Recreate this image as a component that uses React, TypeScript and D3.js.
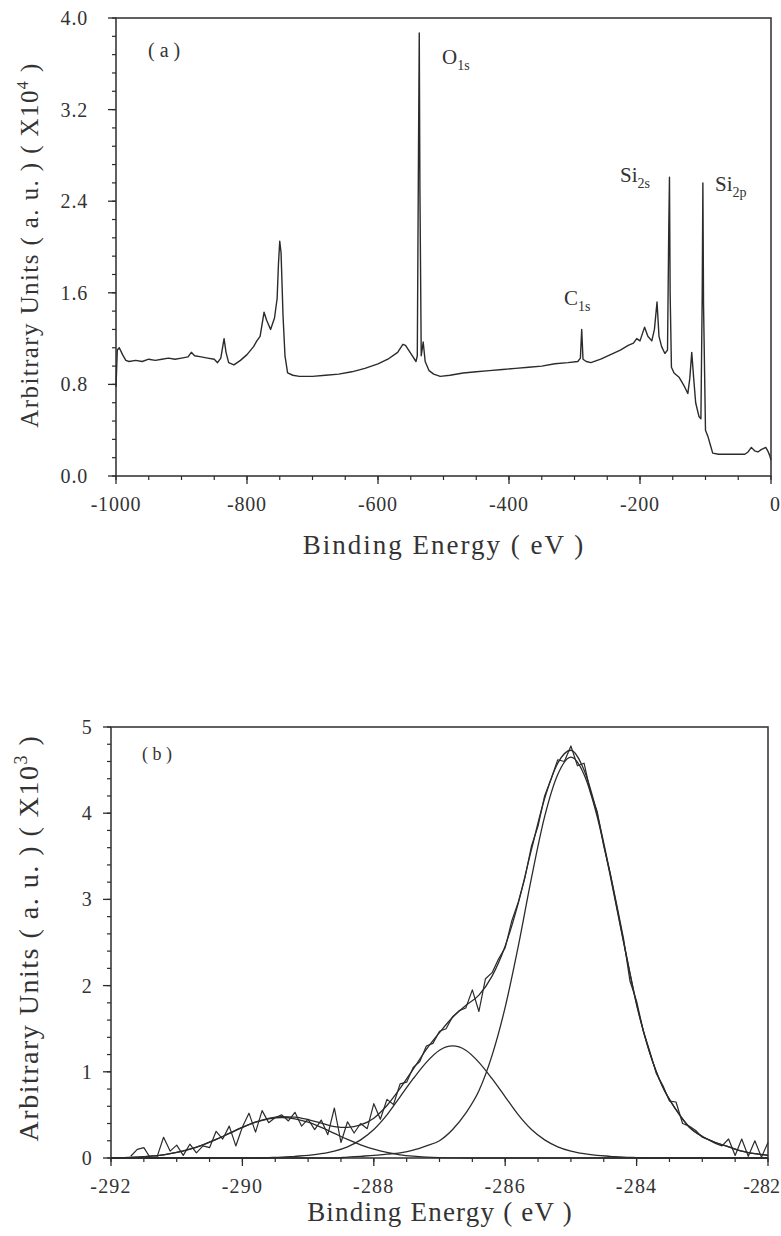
import React from "react";
import * as d3 from "d3";

// (a) survey spectrum, intensity in units of 10^4
const surveyEnergy = [
  -1000, -998, -995, -990, -985, -980, -970, -960, -950, -940, -930, -920, -910, -900, -890, -885, -880,
  -870, -860, -850, -845, -840, -835, -832, -828, -820, -810, -800, -790, -785, -780, -774, -770, -764,
  -758, -754, -752, -750, -748, -745, -742, -738, -730, -720, -700, -680, -660, -640, -620, -600, -585,
  -570, -562, -558, -550, -542, -540, -538, -537, -536, -534, -531, -528, -522, -515, -505, -490, -470,
  -450, -430, -410, -390, -370, -350, -330, -310, -295, -291, -289, -287, -282, -275, -260, -245, -230,
  -218, -210, -205, -200, -193, -188, -182, -178, -174, -171, -167, -162, -158, -156, -155, -154, -152,
  -148, -140, -132, -127, -124, -121, -118, -115, -110, -107, -105, -104, -103, -100, -96, -92, -89, -80,
  -60, -40, -35, -30, -25, -20, -15, -8, -5, -2, 0,
];
const surveyCounts = [
  0.78, 1.1, 1.12, 1.06, 1.01, 1.0, 1.01, 1.0, 1.02, 1.01, 1.02, 1.03, 1.02, 1.03, 1.04, 1.08, 1.05,
  1.04, 1.03, 1.02, 0.99, 1.03, 1.2, 1.08, 0.99, 0.97, 1.01, 1.06, 1.13, 1.18, 1.22, 1.43, 1.36, 1.28,
  1.38, 1.55, 1.85, 2.05, 1.95, 1.4, 1.05, 0.9, 0.88, 0.87, 0.87, 0.88, 0.89, 0.91, 0.94, 0.98, 1.02,
  1.08, 1.15, 1.14, 1.07, 1.0, 1.05, 3.0, 3.87, 2.5, 1.05, 1.17, 1.0, 0.92, 0.89, 0.87, 0.88, 0.9,
  0.91, 0.92, 0.93, 0.94, 0.95, 0.96, 0.98, 0.99, 1.0, 1.03, 1.28, 1.02, 1.0, 0.99, 1.02, 1.06, 1.1,
  1.14, 1.16, 1.2, 1.18, 1.3, 1.22, 1.18, 1.28, 1.52, 1.22, 1.13, 1.07, 1.1, 2.2, 2.61, 1.6, 0.95,
  0.9, 0.86, 0.78, 0.72, 0.85, 1.08, 0.85, 0.64, 0.52, 0.5, 1.6, 2.56, 1.5, 0.4, 0.34, 0.26, 0.2, 0.19,
  0.19, 0.19, 0.21, 0.25, 0.22, 0.21, 0.23, 0.25, 0.22, 0.18, 0.14,
];
const surveyXTicks = [-1000, -800, -600, -400, -200, 0];
const surveyYTicks = [0, 0.8, 1.6, 2.4, 3.2, 4.0];

// (b) C1s region, intensity in units of 10^3
const c1sEnergy = [
  -291.7, -291.6, -291.5, -291.4, -291.3, -291.2, -291.1, -291.0, -290.9, -290.8, -290.7, -290.6, -290.5,
  -290.4, -290.3, -290.2, -290.1, -290.0, -289.9, -289.8, -289.7, -289.6, -289.5, -289.4, -289.3, -289.2,
  -289.1, -289.0, -288.9, -288.8, -288.7, -288.6, -288.5, -288.4, -288.3, -288.2, -288.1, -288.0, -287.9,
  -287.8, -287.7, -287.6, -287.5, -287.4, -287.3, -287.2, -287.1, -287.0, -286.9, -286.8, -286.7, -286.6,
  -286.5, -286.4, -286.3, -286.2, -286.1, -286.0, -285.9, -285.8, -285.7, -285.6, -285.5, -285.4, -285.3,
  -285.2, -285.1, -285.0, -284.9, -284.8, -284.7, -284.6, -284.5, -284.4, -284.3, -284.2, -284.1, -284.0,
  -283.9, -283.8, -283.7, -283.6, -283.5, -283.4, -283.3, -283.2, -283.1, -283.0, -282.9, -282.8, -282.7,
  -282.6, -282.5, -282.4, -282.3, -282.2, -282.1, -282.0,
];
const c1sCounts = [
  0.02, 0.1, 0.12, 0.0, 0.01, 0.24, 0.08, 0.15, 0.03, 0.16, 0.06, 0.14, 0.12, 0.31, 0.22, 0.37, 0.14,
  0.36, 0.52, 0.3, 0.55, 0.41, 0.47, 0.5, 0.43, 0.53, 0.37, 0.45, 0.33, 0.44, 0.27, 0.58, 0.18, 0.42,
  0.29, 0.4, 0.34, 0.63, 0.45, 0.68, 0.62, 0.86, 0.88, 1.05, 1.12, 1.3, 1.33, 1.47, 1.5, 1.64, 1.71, 1.74,
  1.95, 1.7, 2.08, 2.15, 2.31, 2.44, 2.75, 2.97, 3.25, 3.62, 3.85, 4.2, 4.4, 4.62, 4.6, 4.78, 4.55, 4.58,
  4.24, 4.02, 3.62, 3.3, 2.93, 2.55, 2.05, 1.82, 1.48, 1.24, 0.98, 0.84, 0.66, 0.65, 0.4, 0.37, 0.32,
  0.24, 0.21, 0.17, 0.14, 0.22, 0.03, 0.22, 0.02, 0.2, 0.01, 0.18,
];

// fitted components and their sum
const fitEnergy = [
  -292.0, -291.8, -291.6, -291.4, -291.2, -291.0, -290.8, -290.6, -290.4, -290.2, -290.0, -289.8, -289.6,
  -289.4, -289.2, -289.0, -288.8, -288.6, -288.4, -288.2, -288.0, -287.8, -287.6, -287.4, -287.2, -287.0,
  -286.8, -286.6, -286.4, -286.2, -286.0, -285.8, -285.6, -285.4, -285.2, -285.0, -284.8, -284.6, -284.4,
  -284.2, -284.0, -283.8, -283.6, -283.4, -283.2, -283.0, -282.8, -282.6, -282.4, -282.2, -282.0,
];
const fitPeak1 = [
  0.002, 0.005, 0.011, 0.021, 0.037, 0.064, 0.102, 0.153, 0.215, 0.285, 0.355, 0.415, 0.455, 0.47, 0.455,
  0.415, 0.355, 0.285, 0.215, 0.153, 0.102, 0.064, 0.037, 0.021, 0.011, 0.005, 0.002, 0, 0, 0, 0, 0, 0,
  0, 0, 0, 0, 0, 0, 0, 0, 0, 0, 0, 0, 0, 0, 0, 0, 0, 0,
];
const fitPeak2 = [
  0, 0, 0, 0, 0, 0, 0, 0, 0, 0, 0, 0, 0.005, 0.01, 0.02, 0.03, 0.05, 0.08, 0.13, 0.21, 0.33, 0.5, 0.71,
  0.92, 1.11, 1.25, 1.3, 1.25, 1.11, 0.92, 0.71, 0.5, 0.33, 0.21, 0.13, 0.08, 0.05, 0.03, 0.02, 0.01,
  0.005, 0, 0, 0, 0, 0, 0, 0, 0, 0, 0,
];
const fitPeak3 = [
  0, 0, 0, 0, 0, 0, 0, 0, 0, 0, 0, 0, 0, 0, 0, 0, 0, 0, 0.01, 0.02, 0.03, 0.045, 0.06, 0.09, 0.14, 0.2,
  0.33, 0.52, 0.78, 1.19, 1.75, 2.46, 3.25, 3.96, 4.45, 4.65, 4.45, 3.96, 3.27, 2.51, 1.78, 1.22, 0.82,
  0.56, 0.36, 0.25, 0.18, 0.13, 0.08, 0.05, 0.03,
];
const fitEnvelope = [
  0.002, 0.005, 0.011, 0.021, 0.037, 0.064, 0.102, 0.153, 0.215, 0.285, 0.355, 0.415, 0.46, 0.48, 0.475,
  0.445, 0.405, 0.365, 0.355, 0.383, 0.462, 0.609, 0.807, 1.031, 1.261, 1.455, 1.632, 1.77, 1.89, 2.11,
  2.46, 2.96, 3.58, 4.17, 4.58, 4.73, 4.5, 3.99, 3.29, 2.52, 1.785, 1.22, 0.82, 0.56, 0.36, 0.25, 0.18,
  0.13, 0.08, 0.05, 0.03,
];
const c1sXTicks = [-292, -290, -288, -286, -284, -282];
const c1sYTicks = [0, 1, 2, 3, 4, 5];

const serif = "'Liberation Serif', 'Times New Roman', 'DejaVu Serif', serif";
const ink = "#2b2b2b";

type AxisProps = {
  x: d3.ScaleLinear<number, number>;
  y: d3.ScaleLinear<number, number>;
  xTicks: number[];
  yTicks: number[];
  xMinorStep: number;
  yMinorStep: number;
  fmtX: (v: number) => string;
  fmtY: (v: number) => string;
  yLabelGap: number;
  tickFont: number;
  tickSpacing: number;
};

function Frame({ x, y, xTicks, yTicks, xMinorStep, yMinorStep, fmtX, fmtY, yLabelGap, tickFont, tickSpacing }: AxisProps) {
  const [x0, x1] = x.range();
  const [y0, y1] = y.range();
  const [dx0, dx1] = x.domain();
  const [dy0, dy1] = y.domain();
  const xMinor = d3.range(dx0, dx1 + 1e-9, xMinorStep);
  const yMinor = d3.range(dy0, dy1 + 1e-9, yMinorStep);
  return (
    <g>
      <rect x={x0} y={y1} width={x1 - x0} height={y0 - y1} fill="none" stroke="#3a3a3a" strokeWidth={1.6} />
      {xMinor.map((v, i) => (
        <line key={"xm" + i} x1={x(v)} x2={x(v)} y1={y0} y2={y0 + 4} stroke={ink} strokeWidth={1.2} />
      ))}
      {yMinor.map((v, i) => (
        <line key={"ym" + i} x1={x0 - 4} x2={x0} y1={y(v)} y2={y(v)} stroke={ink} strokeWidth={1.2} />
      ))}
      {xTicks.map((v, i) => {
        // the last label sits at the page edge: keep it inside the picture
        const last = i === xTicks.length - 1 && x(v) > 760;
        return (
          <g key={"xt" + v}>
            <line x1={x(v)} x2={x(v)} y1={y0} y2={y0 + 8} stroke={ink} strokeWidth={1.3} />
            <text x={last ? 780 : x(v)} y={y0 + 35} textAnchor={last ? "end" : "middle"} fontFamily={serif}
              fontSize={tickFont} letterSpacing={last ? 0 : tickSpacing} fill="#333">{fmtX(v)}</text>
          </g>
        );
      })}
      {yTicks.map((v) => (
        <g key={"yt" + v}>
          <line x1={x0 - 8} x2={x0} y1={y(v)} y2={y(v)} stroke={ink} strokeWidth={1.3} />
          <text x={x0 - yLabelGap} y={y(v)} dy="0.35em" textAnchor="end" fontFamily={serif} fontSize={tickFont}
            letterSpacing={tickSpacing} fill="#333">{fmtY(v)}</text>
        </g>
      ))}
    </g>
  );
}

export default function App() {
  // panel (a)
  const xa = d3.scaleLinear().domain([-1000, 0]).range([116, 771]);
  const ya = d3.scaleLinear().domain([0, 4]).range([476, 18]);
  const surveyLine = d3
    .line<number>()
    .x((_, i) => xa(surveyEnergy[i]))
    .y((d) => ya(d));

  // panel (b)
  const xb = d3.scaleLinear().domain([-292, -282]).range([111, 768]);
  const yb = d3.scaleLinear().domain([0, 5]).range([1158, 727]);
  const rawLine = d3
    .line<number>()
    .x((_, i) => xb(c1sEnergy[i]))
    .y((d) => yb(d));
  const fitLine = d3
    .line<number>()
    .x((_, i) => xb(fitEnergy[i]))
    .y((d) => yb(d))
    .curve(d3.curveMonotoneX);

  const fmtInt = (v: number) => String(v);

  return (
    <svg width={781} height={1236} style={{ position: "absolute", left: 0, top: 0, background: "#fff" }}>
      {/* (a) survey */}
      <Frame x={xa} y={ya} xTicks={surveyXTicks} yTicks={surveyYTicks} xMinorStep={50} yMinorStep={0.16}
        fmtX={fmtInt} fmtY={(v) => v.toFixed(1)} yLabelGap={28} tickFont={20} tickSpacing={0.8} />
      <path d={surveyLine(surveyCounts) ?? ""} fill="none" stroke={ink} strokeWidth={1.4} strokeLinejoin="round" />
      <text x={148} y={57} fontFamily={serif} fontSize={20} fill="#333">( a )</text>
      <text x={442} y={64} fontFamily={serif} fontSize={21} fill="#333">
        O<tspan fontSize={14} dy={6}>1s</tspan>
      </text>
      <text x={620} y={182} fontFamily={serif} fontSize={21} fill="#333">
        Si<tspan fontSize={14} dy={6}>2s</tspan>
      </text>
      <text x={715} y={191} fontFamily={serif} fontSize={21} fill="#333">
        Si<tspan fontSize={14} dy={6}>2p</tspan>
      </text>
      <text x={564} y={305} fontFamily={serif} fontSize={21} fill="#333">
        C<tspan fontSize={14} dy={6}>1s</tspan>
      </text>
      <text x={444} y={554} textAnchor="middle" fontFamily={serif} fontSize={27} letterSpacing={2} fill="#333">
        Binding Energy ( eV )
      </text>
      <text transform="translate(38,245) rotate(-90)" textAnchor="middle" fontFamily={serif} fontSize={25}
        letterSpacing={1.4} fill="#333">
        Arbitrary Units ( a. u. ) ( X10<tspan fontSize={16} dy={-10}>4</tspan><tspan dy={10}> )</tspan>
      </text>

      {/* (b) C1s */}
      <Frame x={xb} y={yb} xTicks={c1sXTicks} yTicks={c1sYTicks} xMinorStep={0.5} yMinorStep={0.2}
        fmtX={fmtInt} fmtY={fmtInt} yLabelGap={18} tickFont={20} tickSpacing={1.2} />
      {[fitPeak1, fitPeak2, fitPeak3].map((p, i) => (
        <path key={i} d={fitLine(p) ?? ""} fill="none" stroke={ink} strokeWidth={1.3} />
      ))}
      <path d={fitLine(fitEnvelope) ?? ""} fill="none" stroke={ink} strokeWidth={1.3} />
      <path d={rawLine(c1sCounts) ?? ""} fill="none" stroke={ink} strokeWidth={1.2} strokeLinejoin="round" />
      <text x={142} y={760} fontFamily={serif} fontSize={18} fill="#333">( b )</text>
      <text x={440} y={1221} textAnchor="middle" fontFamily={serif} fontSize={27} letterSpacing={1.2} fill="#333">
        Binding Energy ( eV )
      </text>
      <text transform="translate(38,938) rotate(-90)" textAnchor="middle" fontFamily={serif} fontSize={28}
        letterSpacing={1.5} fill="#333">
        Arbitrary Units ( a. u. ) ( X10<tspan fontSize={18} dy={-11}>3</tspan><tspan dy={11}> )</tspan>
      </text>
    </svg>
  );
}
